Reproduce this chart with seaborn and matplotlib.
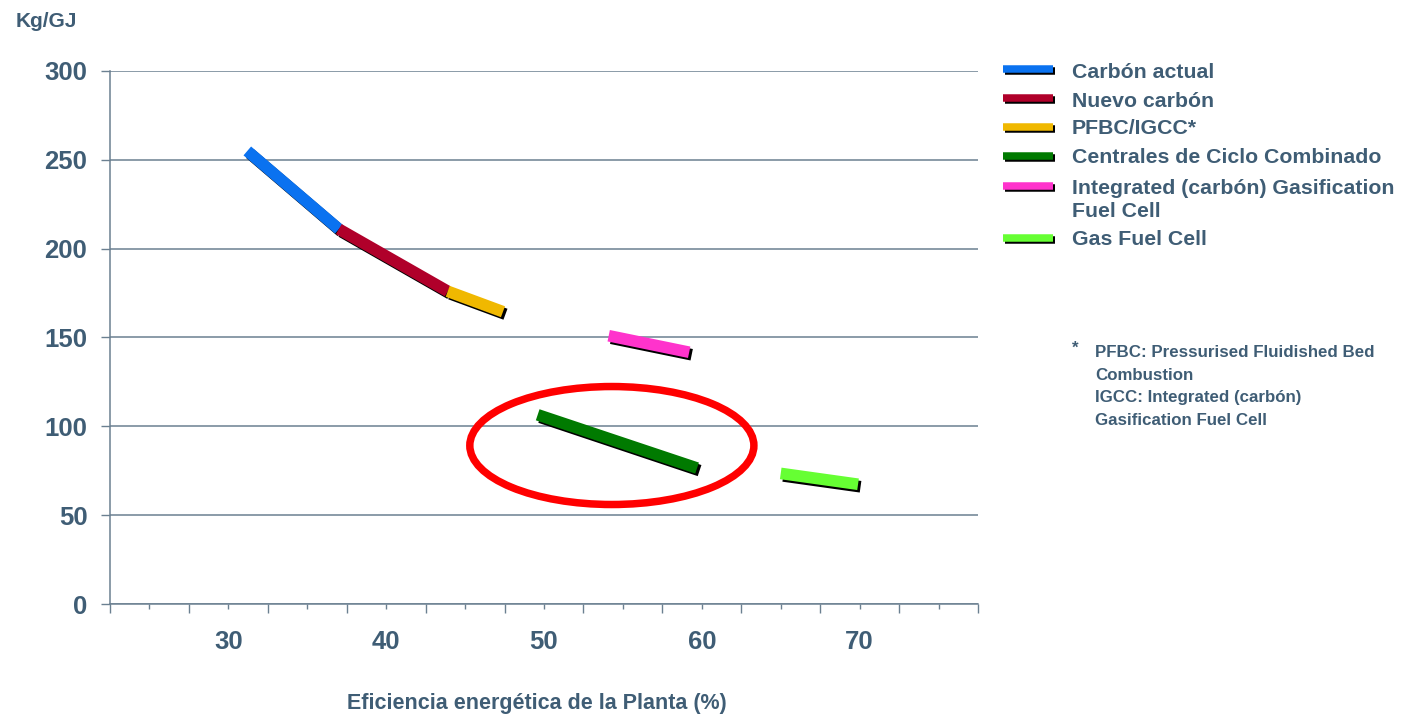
import numpy as np
import pandas as pd
import matplotlib
matplotlib.use("Agg")
import matplotlib.pyplot as plt
import matplotlib.patheffects as pe
from matplotlib.lines import Line2D
from matplotlib.patches import Ellipse
import seaborn as sns

# --- data -------------------------------------------------------------
series = [
    "Carbón actual",
    "Nuevo carbón",
    "PFBC/IGCC*",
    "Centrales de Ciclo Combinado",
    "Integrated (carbón) Gasification\nFuel Cell",
    "Gas Fuel Cell",
]
eff_start = [31.2, 37.0, 43.9, 49.6, 54.1, 65.0]   # plant efficiency (%)
eff_end = [37.0, 43.9, 47.4, 59.7, 59.2, 69.9]
kg_start = [255.0, 211.0, 176.0, 106.5, 151.0, 73.5]  # kg/GJ
kg_end = [211.0, 176.0, 164.5, 76.5, 141.7, 67.4]
colors = ["#0a72f0", "#b0002a", "#f0b800", "#007a00", "#ff33cc", "#66ff33"]

x_ticklabels = ["30", "40", "50", "60", "70"]
y_ticks = [0, 50, 100, 150, 200, 250, 300]

# highlighted region (combined-cycle plants)
hl_center = (54.3, 89.2)
hl_width = 18.0
hl_height = 66.4

footnote = ("PFBC: Pressurised Fluidished Bed\nCombustion\n"
            "IGCC: Integrated (carbón)\nGasification Fuel Cell")

# --- style ------------------------------------------------------------
sns.set_style("ticks")
plt.rcParams["font.family"] = ["Liberation Sans", "DejaVu Sans"]
plt.rcParams["font.weight"] = "bold"
TXT = "#3f5d75"
GRID = "#6b8091"

rows = []
for s, x0, x1, y0, y1 in zip(series, eff_start, eff_end, kg_start, kg_end):
    rows.append({"serie": s, "eff": x0, "kg": y0})
    rows.append({"serie": s, "eff": x1, "kg": y1})
df = pd.DataFrame(rows)

fig = plt.figure(figsize=(14.12, 7.17), dpi=100)
ax = fig.add_axes([0.07790, 0.15760, 0.61473, 0.74338])

shadow = [pe.SimpleLineShadow(offset=(1.8, -1.8), shadow_color="black", alpha=1.0),
          pe.Normal()]

sns.lineplot(data=df, x="eff", y="kg", hue="serie", hue_order=series,
             palette=dict(zip(series, colors)), estimator=None, sort=False,
             units="serie", legend=False, linewidth=8.4, ax=ax)
for ln in ax.lines:
    ln.set_linewidth(8.4)
    ln.set_solid_capstyle("butt")
    ln.set_path_effects(shadow)

ax.add_patch(Ellipse(hl_center, hl_width, hl_height, fill=False,
                     ec="#ff0000", lw=5.4, zorder=5))

# --- axes -------------------------------------------------------------
ax.set_xlim(22.5, 77.5)
ax.set_ylim(0, 300)
ax.set_xlabel("")
ax.set_ylabel("")

ax.set_xticks(np.arange(22.5, 77.6, 5.0))
ax.set_xticklabels([])
minor_pos = np.arange(25, 75.1, 5.0)
minor_lab = []
for p in minor_pos:
    minor_lab.append(x_ticklabels[int((p - 30) / 10)] if (p - 30) % 10 == 0 and 30 <= p <= 70 else "")
ax.set_xticks(minor_pos, minor=True)
ax.set_xticklabels(minor_lab, minor=True)
ax.tick_params(axis="x", which="major", length=6.5, width=1.0, color=GRID,
               direction="out")
ax.tick_params(axis="x", which="minor", length=3.6, width=1.0, color=GRID,
               direction="out", pad=15, labelsize=18.5, labelcolor=TXT)

ax.set_yticks(y_ticks)
ax.set_yticklabels([str(v) for v in y_ticks])
ax.tick_params(axis="y", length=6.3, width=1.0, color=GRID, direction="out",
               pad=10, labelsize=18.5, labelcolor=TXT)
for t in ax.get_xticklabels(minor=True) + ax.get_yticklabels():
    t.set_fontweight("bold")

ax.yaxis.grid(True, color=GRID, lw=1.1)
ax.xaxis.grid(False)
sns.despine(ax=ax)
for side in ("left", "bottom"):
    ax.spines[side].set_color(GRID)
    ax.spines[side].set_linewidth(1.1)

W, H = 1412.0, 717.0

def fx(px):
    return px / W

def fy(py):
    return 1 - py / H

fig.text(fx(16), fy(27), "Kg/GJ", fontsize=15, color=TXT,
         fontweight="bold", va="baseline", ha="left")
fig.text(fx(536.5), fy(704), "Eficiencia energética de la Planta (%)",
         fontsize=15.5, color=TXT, fontweight="bold", va="center", ha="center")

# --- legend -----------------------------------------------------------
handle_y = [68.5, 97.5, 126.5, 156.0, 186.0, 238.0]
# baseline of the last line of each label
text_base = [78.3, 106.7, 134.5, 163.3, 216.7, 245.0]
leg_shadow = [pe.SimpleLineShadow(offset=(1.5, -1.5), shadow_color="black", alpha=1.0),
              pe.Normal()]
for s, c, hy, tb in zip(series, colors, handle_y, text_base):
    fig.add_artist(Line2D([fx(1003), fx(1053)], [fy(hy), fy(hy)],
                          transform=fig.transFigure, color=c, lw=5.4,
                          solid_capstyle="butt", path_effects=leg_shadow))
    fig.text(fx(1072), fy(tb), s, fontsize=15.3, color=TXT, fontweight="bold",
             va="baseline", ha="left", linespacing=1.22)

# --- footnote ---------------------------------------------------------
fig.text(fx(1072), fy(353), "*", fontsize=12.2, color=TXT, fontweight="bold",
         va="baseline", ha="left")
fig.text(fx(1095), fy(425), footnote, fontsize=12.2, color=TXT,
         fontweight="bold", va="baseline", ha="left", linespacing=1.63)

fig.savefig("out.png", dpi=100)
